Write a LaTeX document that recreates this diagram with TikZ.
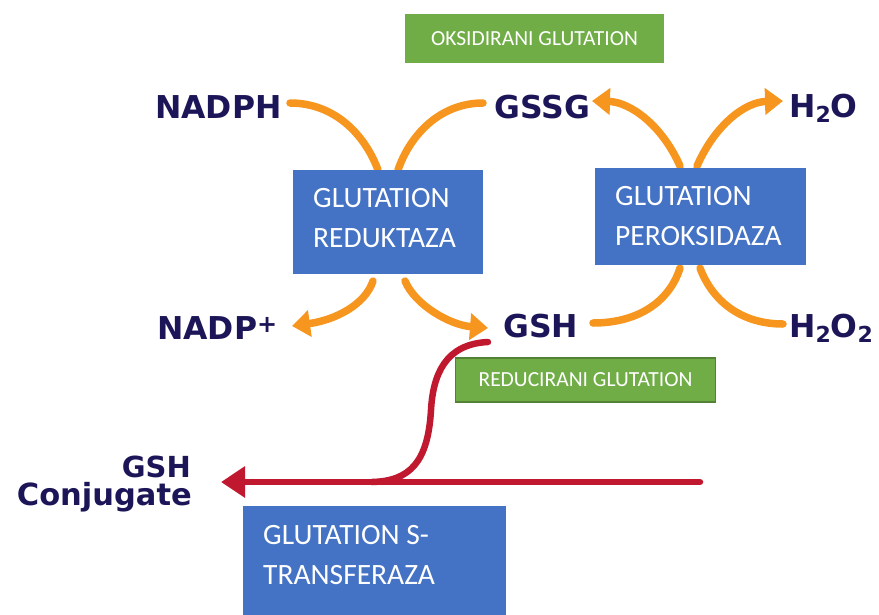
\documentclass[tikz,border=0pt]{standalone}
\usepackage{fontspec}
\setmainfont{Carlito}
\newfontfamily\chemfont{DejaVu Sans}
\usetikzlibrary{arrows.meta}
\definecolor{orng}{RGB}{247,150,30}
\definecolor{rd}{RGB}{192,24,46}
\definecolor{bluebx}{RGB}{68,114,196}
\definecolor{greenbx}{RGB}{112,173,71}
\definecolor{greenbd}{RGB}{84,130,53}
\definecolor{navy}{RGB}{28,22,88}
\tikzset{
  bluebox/.style={fill=bluebx, draw=none, anchor=north west, inner sep=0},
  greenbox/.style={fill=greenbx, draw=greenbd, line width=1.5, text=white, inner sep=0,
     font=\fontsize{21.5}{24}\selectfont},
  boxtext/.style={text=white, anchor=base west, inner sep=0, font=\fontsize{29.5}{32}\selectfont},
  chem/.style={text=navy, inner sep=0, font=\chemfont\bfseries\fontsize{31.5}{32}\selectfont},
  orarc/.style={draw=orng, line width=7.5, line cap=round},
  orarrow/.style={orarc, -{Triangle[length=18,width=26]}},
  redline/.style={draw=rd, line width=6.5, line cap=round},
}
\begin{document}
\begin{tikzpicture}[x=1pt,y=-1pt]
\useasboundingbox (0,0) rectangle (879,614);
% chemical labels
\node[chem, anchor=base west] (nadph) at (155,118) {NADPH};
\node[chem, anchor=base west] (gssg) at (494,118) {GSSG};
\node[chem, anchor=base west] (h2o) at (789,117) {H{\fontsize{22}{22}\selectfont\raisebox{-5pt}{2}}O};
\node[chem, anchor=base west] (nadp) at (157,339) {NADP\raisebox{7pt}{\fontsize{24}{24}\selectfont\bfseries +}};
\node[chem, anchor=base west] (gsh) at (503,337) {GSH};
\node[chem, anchor=base west] (h2o2) at (789,337) {H{\fontsize{22}{22}\selectfont\raisebox{-5pt}{2}}O{\fontsize{22}{22}\selectfont\raisebox{-5pt}{2}}};
\node[chem, anchor=base east, font=\chemfont\bfseries\fontsize{29}{28}\selectfont] (conj1) at (191,477) {GSH};
\node[chem, anchor=base east, font=\chemfont\bfseries\fontsize{30.5}{28}\selectfont] (conj2) at (192,505) {Conjugate};
% coordinates
\coordinate (a1s) at (290,103); \coordinate (a1e) at (378,170);
\coordinate (a2s) at (398,170); \coordinate (a2e) at (483,103);
\coordinate (a3s) at (373,281); \coordinate (a3e) at (292,326);
\coordinate (a4s) at (405,281); \coordinate (a4e) at (488,328);
\coordinate (a5s) at (680,166); \coordinate (a5e) at (592,101);
\coordinate (a6s) at (697,166); \coordinate (a6e) at (783,101);
\coordinate (a7s) at (593,323); \coordinate (a7e) at (680,268);
\coordinate (a8s) at (700,268); \coordinate (a8e) at (783,324);
\coordinate (rs) at (700,482); \coordinate (re) at (221,482);
\coordinate (cs) at (488,342); \coordinate (cj) at (372,482);
% orange arcs
\draw[orarc] (a1s) .. controls (335,103) and (365,135) .. (a1e);
\draw[orarc] (a2s) .. controls (410,135) and (440,103) .. (a2e);
\draw[orarrow] (a3s) .. controls (365,305) and (335,320) .. (a3e);
\draw[orarrow] (a4s) .. controls (415,305) and (450,325) .. (a4e);
\draw[orarrow] (a5s) .. controls (662,125) and (630,102) .. (a5e);
\draw[orarrow] (a6s) .. controls (715,125) and (745,102) .. (a6e);
\draw[orarc] (a7s) .. controls (640,323) and (670,300) .. (a7e);
\draw[orarc] (a8s) .. controls (712,300) and (740,324) .. (a8e);
% red
\draw[redline, -{Triangle[length=24,width=30]}] (rs) -- (re);
\draw[redline] (cs) .. controls (445,344) and (433,375) .. (431,410) .. controls (428,462) and (410,481) .. (cj);
% boxes
\node[bluebox, minimum width=190, minimum height=104] (gr) at (293,170) {};
\node[boxtext] (gr1) at (313,207) {GLUTATION};
\node[boxtext] (gr2) at (313,247) {REDUKTAZA};
\node[bluebox, minimum width=211, minimum height=97] (gp) at (595,168) {};
\node[boxtext] (gp1) at (615,205) {GLUTATION};
\node[boxtext] (gp2) at (615,245) {PEROKSIDAZA};
\node[bluebox, minimum width=263, minimum height=110] (gt) at (243,506) {};
\node[boxtext] (gt1) at (263,544) {GLUTATION S-};
\node[boxtext] (gt2) at (263,584) {TRANSFERAZA};
\node[greenbox, draw=none, minimum width=259, minimum height=49] (ox) at (534.5,38.5) {OKSIDIRANI GLUTATION};
\node[greenbox, minimum width=260, minimum height=44] (red) at (585.5,380) {REDUCIRANI GLUTATION};
\end{tikzpicture}
\end{document}
